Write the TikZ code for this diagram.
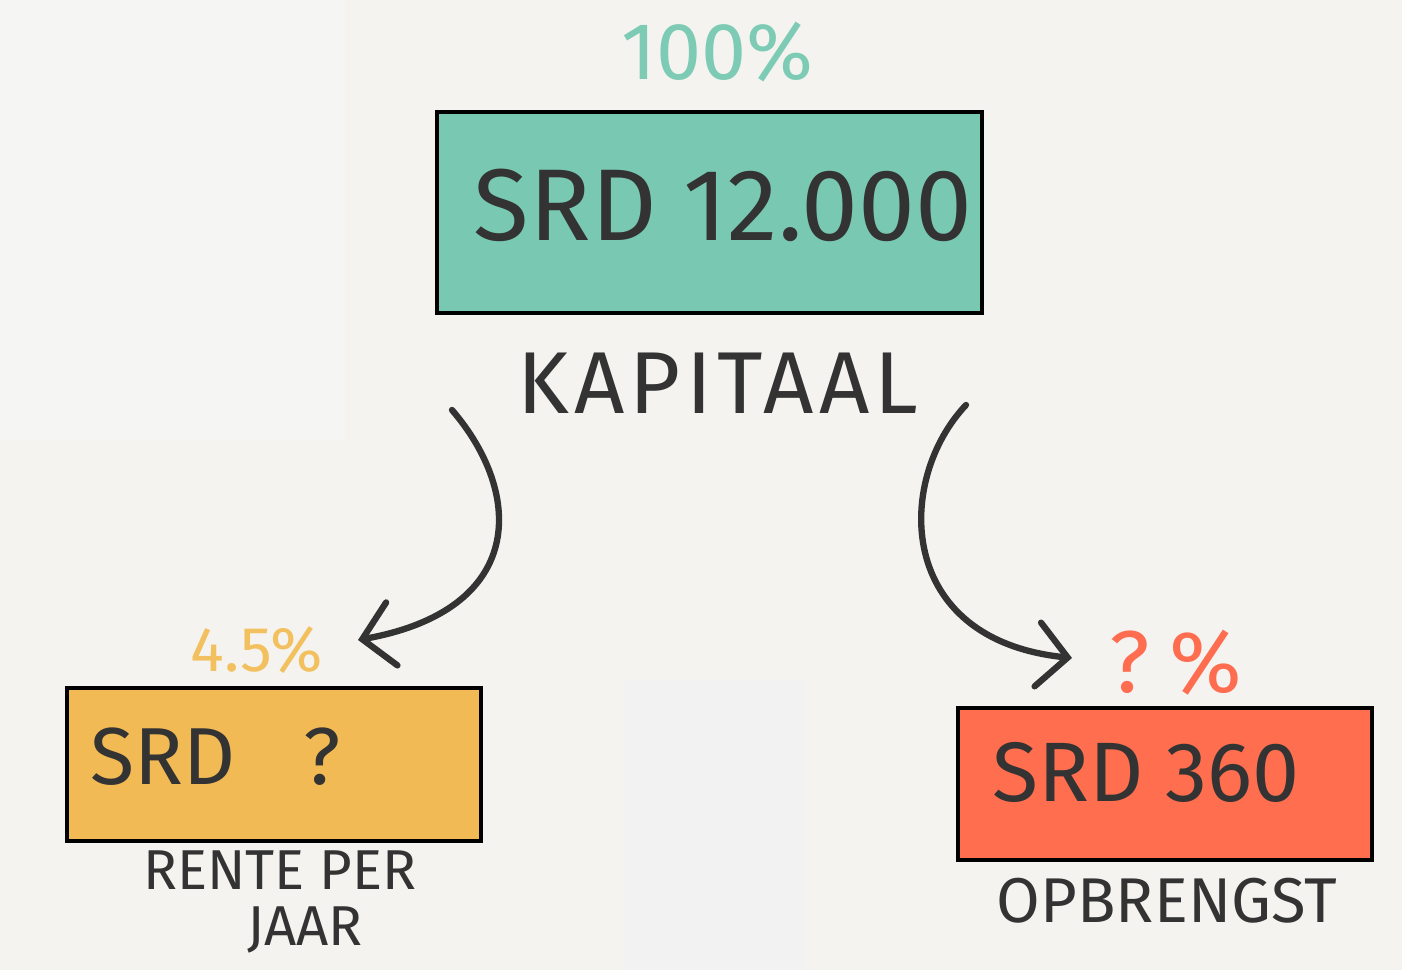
\documentclass[tikz,border=0pt]{standalone}
\usepackage{fontspec}
\setmainfont{Fira Sans}
\newfontfamily\spaced[LetterSpace=6]{Fira Sans}
\usetikzlibrary{arrows.meta}

\definecolor{paper}{HTML}{F4F3EF}
\definecolor{paperlight}{HTML}{F5F5F3}
\definecolor{papergrey}{HTML}{F2F2F2}
\definecolor{ink}{HTML}{333333}
\definecolor{kapcol}{HTML}{79C8B2}
\definecolor{rentecol}{HTML}{F2BA55}
\definecolor{opbcol}{HTML}{FE6E4F}
\definecolor{kappct}{HTML}{7DCBB4}
\definecolor{rentepct}{HTML}{F2C05E}
\definecolor{opbpct}{HTML}{FF6D50}

\tikzset{
	box/.style={draw=black, line width=1.2pt, inner sep=0pt},
	label/.style={text=ink, inner sep=0pt},
	flow/.style={draw=ink, line width=1.8pt, line cap=round,
		-{Straight Barb[length=3mm, width=6.4mm, line cap=round]}},
}

\begin{document}
\begin{tikzpicture}
	\def\bw{4.14}
	\def\bh{1.53}

	% paper
	\fill[paper] (0,0) rectangle (14.02,9.70);
	\useasboundingbox (0,0) rectangle (14.02,9.70);
	\fill[paperlight] (0,5.30) rectangle (3.45,9.70);
	\fill[papergrey] (6.25,0) rectangle (8.05,2.90);

	% kapitaal
	\node[box, fill=kapcol, minimum width=5.45cm, minimum height=2.01cm] (kapbox) at (7.095,7.575) {};
	\node[label, text=kappct] (kappct) at (7.17,9.18) {\fontsize{23}{26}\selectfont 100\%};
	\node[label] (kapval) at (7.23,7.65) {\fontsize{29}{32}\selectfont SRD 12.000};
	\node[label] (kapitaal) at (7.18,5.87) {\spaced\fontsize{25}{28}\selectfont KAPITAAL};

	% rente per jaar
	\node[box, fill=rentecol, minimum width=\bw cm, minimum height=\bh cm] (rentebox) at (2.74,2.055) {};
	\node[label, text=rentepct] (rentepct) at (2.57,3.20) {\fontsize{18}{22}\selectfont 4.5\%};
	\node[label] (renteval) at (2.16,2.13) {\fontsize{23}{26}\selectfont SRD\hspace{0.68cm}?};
	\node[label, align=center, font=\fontsize{16}{16}\selectfont] (rente) at (2.80,0.68) {RENTE PER\\ \hspace*{0.5cm}JAAR};

	% opbrengst
	\node[box, fill=opbcol, minimum width=\bw cm, minimum height=1.52cm] (opbbox) at (11.65,1.86) {};
	\node[label, text=opbpct] (opbpct) at (11.76,3.07) {\fontsize{25}{28}\selectfont ?\hspace{0.2cm}\%};
	\node[label] (opbval) at (11.46,1.98) {\fontsize{24}{27}\selectfont SRD 360};
	\node[label] (opbrengst) at (11.67,0.69) {\fontsize{18}{21}\selectfont OPBRENGST};

	% arrows
	\coordinate (kapL) at (4.52,5.60);
	\coordinate (kapR) at (9.66,5.65);
	\coordinate (renteIn) at (3.58,3.30);
	\coordinate (opbIn) at (10.72,3.12);
	\draw[flow] (kapL) .. controls (5.25,4.75) and (5.25,3.60) .. (renteIn);
	\draw[flow] (kapR) .. controls (8.95,4.90) and (8.95,3.30) .. (opbIn);
\end{tikzpicture}
\end{document}
